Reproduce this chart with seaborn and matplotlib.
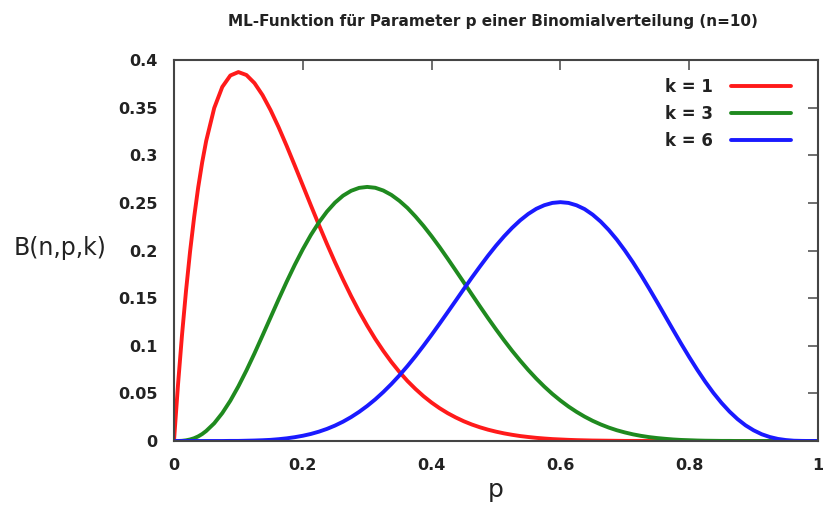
import matplotlib
matplotlib.use("Agg")
import matplotlib.pyplot as plt
import seaborn as sns
import pandas as pd

# p grid
p = [0.0, 0.00625, 0.0125, 0.01875, 0.025, 0.03125, 0.0375, 0.04375,
     0.05, 0.0625, 0.075, 0.0875, 0.1, 0.1125, 0.125, 0.1375, 0.15, 0.1625, 0.175, 0.1875,
     0.2, 0.2125, 0.225, 0.2375, 0.25, 0.2625, 0.275, 0.2875, 0.3, 0.3125, 0.325, 0.3375,
     0.35, 0.3625, 0.375, 0.3875, 0.4, 0.4125, 0.425, 0.4375, 0.45, 0.4625, 0.475, 0.4875,
     0.5, 0.5125, 0.525, 0.5375, 0.55, 0.5625, 0.575, 0.5875, 0.6, 0.6125, 0.625, 0.6375,
     0.65, 0.6625, 0.675, 0.6875, 0.7, 0.7125, 0.725, 0.7375, 0.75, 0.7625, 0.775, 0.7875,
     0.8, 0.8125, 0.825, 0.8375, 0.85, 0.8625, 0.875, 0.8875, 0.9, 0.9125, 0.925, 0.9375,
     0.95, 0.9625, 0.975, 0.9875, 1.0]

k1 = [0.0, 0.0591, 0.1116, 0.1581, 0.1991, 0.2348, 0.2659, 0.2925,
      0.3151, 0.3497, 0.3718, 0.3838, 0.3874, 0.3843, 0.3758, 0.3632, 0.3474, 0.3294,
      0.3098, 0.2893, 0.2684, 0.2475, 0.2269, 0.2069, 0.1877, 0.1695, 0.1522, 0.1360,
      0.1211, 0.1072, 0.0946, 0.0830, 0.0725, 0.0630, 0.0546, 0.0470, 0.0403, 0.0344,
      0.0292, 0.0247, 0.0207, 0.0173, 0.0144, 0.0119, 0.0098, 0.0080, 0.0065, 0.0052,
      0.0042, 0.0033, 0.0026, 0.0020, 0.0016, 0.0012, 0.0009, 0.0007, 0.0005, 0.0004,
      0.0003, 0.0002, 0.0001, 0.0001, 0.0001,
      0.0, 0.0, 0.0, 0.0, 0.0, 0.0, 0.0, 0.0, 0.0, 0.0, 0.0, 0.0, 0.0, 0.0, 0.0, 0.0,
      0.0, 0.0, 0.0, 0.0, 0.0, 0.0]

k3 = [0.0, 0.0, 0.0002, 0.0007, 0.0016, 0.0029, 0.0048, 0.0073,
      0.0105, 0.0186, 0.0293, 0.0423, 0.0574, 0.0741, 0.0920, 0.1108, 0.1298, 0.1488,
      0.1673, 0.1849, 0.2013, 0.2163, 0.2295, 0.2409, 0.2503, 0.2576, 0.2627, 0.2658,
      0.2668, 0.2659, 0.2630, 0.2584, 0.2522, 0.2447, 0.2357, 0.2258, 0.2150, 0.2035,
      0.1914, 0.1790, 0.1665, 0.1539, 0.1414, 0.1291, 0.1172, 0.1057, 0.0947, 0.0844,
      0.0746, 0.0655, 0.0571, 0.0494, 0.0425, 0.0362, 0.0306, 0.0256, 0.0212, 0.0174,
      0.0141, 0.0113, 0.0090, 0.0070, 0.0054, 0.0041, 0.0031, 0.0023, 0.0016, 0.0011,
      0.0008, 0.0005, 0.0003, 0.0002, 0.0001, 0.0001,
      0.0, 0.0, 0.0, 0.0, 0.0, 0.0, 0.0, 0.0, 0.0, 0.0, 0.0]

k6 = [0.0, 0.0, 0.0, 0.0, 0.0, 0.0, 0.0, 0.0,
      0.0, 0.0, 0.0, 0.0001, 0.0001, 0.0003, 0.0005, 0.0008, 0.0012, 0.0019,
      0.0028, 0.0040, 0.0055, 0.0074, 0.0098, 0.0127, 0.0162, 0.0203, 0.0251, 0.0306,
      0.0368, 0.0437, 0.0514, 0.0598, 0.0689, 0.0787, 0.0891, 0.1001, 0.1115, 0.1233,
      0.1353, 0.1474, 0.1596, 0.1716, 0.1832, 0.1945, 0.2051, 0.2149, 0.2238, 0.2317,
      0.2384, 0.2438, 0.2476, 0.2500, 0.2508, 0.2500, 0.2475, 0.2435, 0.2377, 0.2304,
      0.2216, 0.2115, 0.2001, 0.1877, 0.1744, 0.1604, 0.1460, 0.1313, 0.1166, 0.1021,
      0.0881, 0.0747, 0.0621, 0.0505, 0.0401, 0.0309, 0.0230, 0.0164, 0.0112, 0.0071,
      0.0042, 0.0022, 0.0010, 0.0003, 0.0001, 0.0, 0.0]

labels = ["k = 1", "k = 3", "k = 6"]
colors = ["#ff1a1a", "#1f8a1f", "#1a1aff"]
xticks = [0, 0.2, 0.4, 0.6, 0.8, 1]
xticklabels = ["0", "0.2", "0.4", "0.6", "0.8", "1"]
yticks = [0, 0.05, 0.1, 0.15, 0.2, 0.25, 0.3, 0.35, 0.4]
yticklabels = ["0", "0.05", "0.1", "0.15", "0.2", "0.25", "0.3", "0.35", "0.4"]

frames = []
for lab, vals in zip(labels, [k1, k3, k6]):
    frames.append(pd.DataFrame({"p": p, "B": vals, "k": lab}))
df = pd.concat(frames, ignore_index=True)

sns.set_style("white")
plt.rcParams["font.family"] = ["DejaVu Sans"]

fig = plt.figure(figsize=(8.23, 5.09), dpi=100)
ax = fig.add_axes([0.2114, 0.1336, 0.7826, 0.7484])

sns.lineplot(data=df, x="p", y="B", hue="k", palette=dict(zip(labels, colors)),
             linewidth=2.8, ax=ax, legend=True)

ax.set_xlim(0, 1)
ax.set_ylim(0, 0.4)
ax.set_xticks(xticks)
ax.set_xticklabels(xticklabels, fontweight="bold", fontsize=11.5, color="#222222")
ax.set_yticks(yticks)
ax.set_yticklabels(yticklabels, fontweight="bold", fontsize=11.5, color="#222222")
ax.tick_params(direction="in", length=7, width=1.2, color="#555555",
               top=True, right=True, pad=12)
for s in ax.spines.values():
    s.set_color("#444444")
    s.set_linewidth(1.5)
    s.set_visible(True)

ax.set_xlabel("p", fontsize=18, color="#222222", va="center")
ax.set_ylabel("B(n,p,k)", fontsize=17, rotation=0, color="#222222",
              ha="center", va="center")
ax.yaxis.set_label_coords(-0.177, 0.507)
ax.xaxis.set_label_coords(0.5, -0.128)

fig.text(0.599, 0.958, "ML-Funktion für Parameter p einer Binomialverteilung (n=10)",
         ha="center", va="center", fontsize=11, fontweight="bold", color="#222222")

leg = ax.legend(loc="upper right", frameon=False, markerfirst=False,
                handlelength=3.6, handletextpad=1.1, labelspacing=0.55,
                bbox_to_anchor=(0.982, 0.993),
                prop={"weight": "bold", "size": 12})
for t in leg.get_texts():
    t.set_color("#222222")
for h in leg.get_lines():
    h.set_linewidth(2.8)

fig.savefig("out.png", dpi=100)
